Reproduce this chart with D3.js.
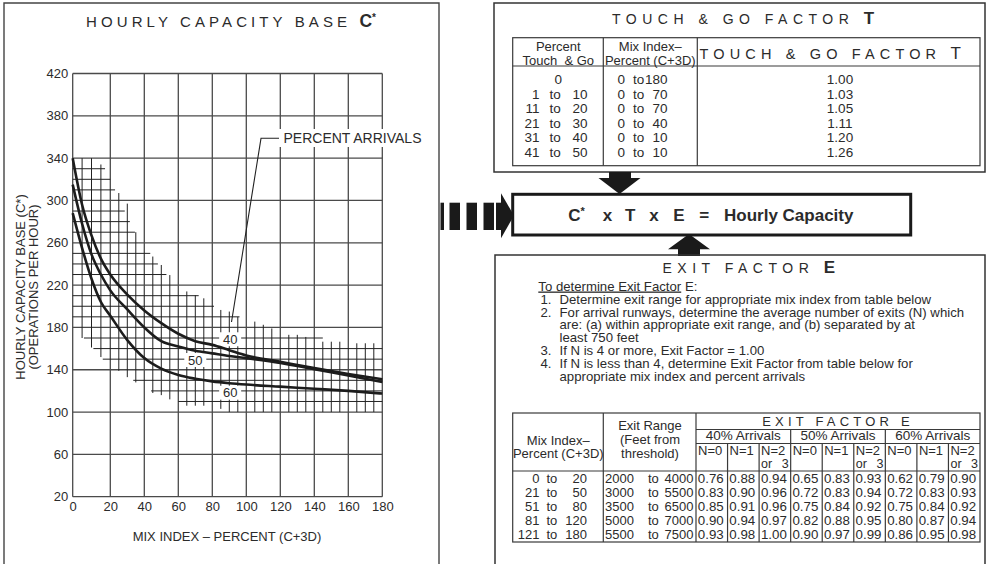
<!DOCTYPE html>
<html><head><meta charset="utf-8">
<script src="https://cdn.jsdelivr.net/npm/d3@7"></script>
<style>
html,body{margin:0;padding:0;background:#fff;}
svg{display:block;font-family:"Liberation Sans",Arial,sans-serif;}
</style></head><body>
<div id="chart"></div>
<script>
// ---------------- DATA ----------------
const xTicks = [0,20,40,60,80,100,120,140,160,180];
const yTicks = [20,60,100,140,180,220,260,300,340,380,420];
const mixIndex   = [0,5,10,15,20,30,40,50,60,70,80,90,100,120,140,160,180];
const arrivals40 = [340,296,267,245,230,211,196,184,174,167,163.5,158.5,153.5,147.5,141.5,136,131];
const arrivals50 = [315,278,249,230,215,197,180,167,162,158,155.5,153,151,146.5,140.5,134.5,128.5];
const arrivals60 = [288,255,226,204,191,168,151,141,135,131.5,129,127.3,126,124,122,120,117.5];
const curveLabels = ["40","50","60"];
// fine hatch: vertical lines [mix index, low C*, high C*]
const hatchV = [[5,170,340],[10,161,340],[15,152,334],[25,139,307],[30,133,297],[35,128,270],
  [45,118,247],[50,116,239],[55,112,229.5],[65,106,214],[70,106,210.5],[75,106,207.5],
  [85,103,196.5],[90,100,195],[95,100,190],[105,100,185.5],[110,100,182.5],[115,100,179],
  [125,100,173],[130,100,173],[135,100,171],[145,100,166.5],[150,100,166.5],[155,100,166.5],
  [165,100,165],[170,100,165],[175,100,165]];
// fine hatch: horizontal lines [C*, from mix index, to mix index]
const hatchH = [[110,60,180],[120,44,180],[130,33.5,180],[150,16,180],[160,11,180],[170,6,145],
  [190,0,96],[200,0,81],[210,0,72],[230,0,53],[240,0,48],[250,0,43.5],[270,0,34.5],
  [280,0,31.5],[290,0,28.5],[310,0,22.8],[320,0,20],[330,0,17.2]];

const tgPercent = [[0],[1,10],[11,20],[21,30],[31,40],[41,50]];
const tgMix     = [[0,180],[0,70],[0,70],[0,40],[0,10],[0,10]];
const tgFactor  = [1.00,1.03,1.05,1.11,1.20,1.26];

const exitSteps = [
  ["1.","Determine exit range for appropriate mix index from table below"],
  ["2.","For arrival runways, determine the average number of exits (N) which"],
  ["","are: (a) within appropriate exit range, and (b) separated by at"],
  ["","least 750 feet"],
  ["3.","If N is 4 or more, Exit Factor = 1.00"],
  ["4.","If N is less than 4, determine Exit Factor from table below for"],
  ["","appropriate mix index and percent arrivals"]];
const exitMix   = [[0,20],[21,50],[51,80],[81,120],[121,180]];
const exitRange = [[2000,4000],[3000,5500],[3500,6500],[5000,7000],[5500,7500]];
const arrivalGroups = ["40% Arrivals","50% Arrivals","60% Arrivals"];
const exitN = ["N=0","N=1","N=2"];
const exitFactor = [
  [0.76,0.88,0.94,0.65,0.83,0.93,0.62,0.79,0.90],
  [0.83,0.90,0.96,0.72,0.83,0.94,0.72,0.83,0.93],
  [0.85,0.91,0.96,0.75,0.84,0.92,0.75,0.84,0.92],
  [0.90,0.94,0.97,0.82,0.88,0.95,0.80,0.87,0.94],
  [0.93,0.98,1.00,0.90,0.97,0.99,0.86,0.95,0.98]];

// ---------------- DRAW ----------------
const W=986,H=564, TC="#2b2b2b", LC="#3a3a3a";
const svg=d3.select("#chart").append("svg").attr("width",W).attr("height",H);
svg.append("rect").attr("width",W).attr("height",H).attr("fill","#fff");

function txt(sel,xx,yy,s,o={}){
  const t=sel.append("text").attr("x",xx).attr("y",yy).attr("fill",TC)
    .style("font-size",(o.size||13)+"px").text(s);
  if(o.anchor) t.attr("text-anchor",o.anchor);
  if(o.weight) t.style("font-weight",o.weight);
  if(o.ls!=null) t.style("letter-spacing",o.ls+"px");
  return t;
}
function ln(sel,x1,y1,x2,y2,w,c){
  return sel.append("line").attr("x1",x1).attr("y1",y1).attr("x2",x2).attr("y2",y2)
    .attr("stroke",c||LC).attr("stroke-width",w||1);
}

// ===== LEFT PANEL =====
const x=d3.scaleLinear().domain([0,20,180]).range([72.7,110.3,382.3]);
const y=d3.scaleLinear().domain([20,420]).range([496.7,73.5]);

svg.append("path").attr("d","M4,570V3H439V570").attr("fill","none").attr("stroke","#444").attr("stroke-width",1.4);

const tt=svg.append("text").attr("x",86).attr("y",27).attr("fill",TC).style("font-size","15px");
tt.append("tspan").style("letter-spacing","4.1px").text("HOURLY CAPACITY BASE ");
tt.append("tspan").style("font-weight","bold").style("font-size","17.5px").text("C");
tt.append("tspan").style("font-weight","bold").style("font-size","10px").attr("dy",-6).text("*");

const grid=svg.append("g");
grid.selectAll("line.v").data(xTicks).join("line").attr("class","v")
  .attr("x1",d=>x(d)).attr("x2",d=>x(d)).attr("y1",y(20)).attr("y2",y(420))
  .attr("stroke","#4a4a4a").attr("stroke-width",1.3);
grid.selectAll("line.h").data(yTicks).join("line").attr("class","h")
  .attr("y1",d=>y(d)).attr("y2",d=>y(d)).attr("x1",x(0)).attr("x2",x(180))
  .attr("stroke","#4a4a4a").attr("stroke-width",1.3);

const hatch=svg.append("g").attr("stroke","#222").attr("stroke-width",1);
hatch.selectAll("line.hv").data(hatchV).join("line").attr("class","hv")
  .attr("x1",d=>x(d[0])).attr("x2",d=>x(d[0])).attr("y1",d=>y(d[1])).attr("y2",d=>y(d[2]));
hatch.selectAll("line.hh").data(hatchH).join("line").attr("class","hh")
  .attr("y1",d=>y(d[0])).attr("y2",d=>y(d[0])).attr("x1",d=>x(d[1])).attr("x2",d=>x(d[2]));

// axes
const ax=svg.append("g").attr("transform",`translate(0,${y(20)})`)
  .call(d3.axisBottom(x).tickValues(xTicks).tickSize(0).tickPadding(5.5));
ax.select(".domain").remove();
ax.attr("font-family",null).attr("font-size",null);
ax.selectAll("text").attr("fill",TC).style("font-size","13px");
const ay=svg.append("g").attr("transform",`translate(${x(0)},0)`)
  .call(d3.axisLeft(y).tickValues(yTicks).tickSize(0).tickPadding(4.4));
ay.select(".domain").remove();
ay.attr("font-family",null).attr("font-size",null);
ay.selectAll("text").attr("fill",TC).style("font-size","13px");

txt(svg,227,540.5,"MIX INDEX \u2013 PERCENT (C+3D)",{anchor:"middle"});
const yl=svg.append("g").attr("transform","translate(0,287) rotate(-90)");
txt(yl,0,25,"HOURLY CAPACITY BASE (C*)",{anchor:"middle"});
txt(yl,0,38,"(OPERATIONS PER HOUR)",{anchor:"middle"});

// curve labels with white backgrounds
const labelPos=[[90.5,168.8],[70,149.2],[90.5,118.3]];
curveLabels.forEach((s,i)=>{
  const cx=x(labelPos[i][0]), cy=y(labelPos[i][1]);
  svg.append("rect").attr("x",cx-11).attr("y",cy-7).attr("width",22).attr("height",14).attr("fill","#fff");
  txt(svg,cx,cy+4.6,s,{anchor:"middle"});
});

// curves
const line=d3.line().x(d=>x(d[0])).y(d=>y(d[1])).curve(d3.curveMonotoneX);
[arrivals40,arrivals50,arrivals60].forEach(arr=>{
  svg.append("path").datum(mixIndex.map((m,i)=>[m,arr[i]])).attr("d",line)
    .attr("fill","none").attr("stroke","#1c1c1c").attr("stroke-width",2.6);
});

// PERCENT ARRIVALS label + leader
svg.append("rect").attr("x",279).attr("y",129).attr("width",152).attr("height",18).attr("fill","#fff");
txt(svg,283.5,142.5,"PERCENT ARRIVALS",{size:14});
svg.append("path").attr("d","M231.5,322L261,138.3H279").attr("fill","none")
  .attr("stroke","#222").attr("stroke-width",1.1);

// ===== TOUCH & GO =====
svg.append("rect").attr("x",494).attr("y",3).attr("width",491).attr("height",169)
  .attr("fill","none").attr("stroke","#333").attr("stroke-width",1.5);
const t2=svg.append("text").attr("x",612).attr("y",23.5).attr("fill",TC).style("font-size","14px");
t2.append("tspan").style("letter-spacing","5.5px").text("TOUCH & GO FACTOR ");
t2.append("tspan").style("font-weight","bold").style("font-size","17px").text("T");

const tg=svg.append("g");
tg.append("rect").attr("x",512.7).attr("y",37.7).attr("width",467.3).attr("height",128)
  .attr("fill","none").attr("stroke",LC).attr("stroke-width",1.2);
ln(tg,603.3,37.7,603.3,165.7,1.2); ln(tg,697.3,37.7,697.3,165.7,1.2);
ln(tg,512.7,66,980,66,1.2);
txt(tg,558.3,51.3,"Percent",{anchor:"middle"});
txt(tg,558.3,65.3,"Touch  & Go",{anchor:"middle"}).style("white-space","pre");
txt(tg,650.3,51.3,"Mix Index\u2013",{anchor:"middle"});
txt(tg,650.3,65.3,"Percent (C+3D)",{anchor:"middle"});
const t3=tg.append("text").attr("x",699.5).attr("y",58.5).attr("fill",TC).style("font-size","14.5px");
t3.append("tspan").style("letter-spacing","5.15px").text("TOUCH & GO FACTOR ");
t3.append("tspan").style("font-size","17px").text("T");
const f2=d3.format(".2f");
tgPercent.forEach((p,i)=>{
  const by=84+i*14.6, fs=13.5;
  if(p.length===1) txt(tg,558.3,by,p[0],{anchor:"middle",size:fs});
  else { txt(tg,539.5,by,p[0],{anchor:"end",size:fs}); txt(tg,549.5,by,"to",{size:fs}); txt(tg,587.5,by,p[1],{anchor:"end",size:fs}); }
  const m=tgMix[i];
  txt(tg,625,by,m[0],{anchor:"end",size:fs}); txt(tg,633,by,"to",{size:fs}); txt(tg,667.5,by,m[1],{anchor:"end",size:fs});
  txt(tg,840,by,f2(tgFactor[i]),{anchor:"middle",size:fs});
});

// ===== FORMULA BOX & ARROWS =====
svg.append("rect").attr("x",512.7).attr("y",194.3).attr("width",398).attr("height",40.7)
  .attr("fill","#fff").attr("stroke","#1a1a1a").attr("stroke-width",3);
const fy=221;
const fg=svg.append("g").style("font-weight","bold");
[["C",568.3],["x",602.7],["T",625],["x",649.3],["E",673.3],["=",699.3],["Hourly Capacity",724]]
  .forEach(([s,xx])=>txt(fg,xx,fy,s,{size:17}));
txt(fg,580.5,fy-6,"*",{size:11});
// down arrow
svg.append("path").attr("d","M609,172H631V178H640.5L619.5,194L598.5,178H609Z").attr("fill","#1a1a1a");
// up arrow
svg.append("path").attr("d","M678,256H700V249.3H710L689,234L668,249.3H678Z").attr("fill","#1a1a1a");
// dashed arrow
[[440.5,444],[449.5,460],[466.5,477],[483.5,494],[496,502]].forEach(b=>
  svg.append("rect").attr("x",b[0]).attr("y",202.7).attr("width",b[1]-b[0]).attr("height",27.3).attr("fill","#1a1a1a"));
svg.append("path").attr("d","M501,193.3L514,215.5L501,238.3Z").attr("fill","#1a1a1a");

// ===== EXIT FACTOR =====
svg.append("path").attr("d","M495,570V255H985V570").attr("fill","none").attr("stroke","#333").attr("stroke-width",1.5);
const t4=svg.append("text").attr("x",662.5).attr("y",272.5).attr("fill",TC).style("font-size","14px");
t4.append("tspan").style("letter-spacing","5.5px").text("EXIT FACTOR ");
t4.append("tspan").style("font-weight","bold").style("font-size","17px").text("E");

const t5=svg.append("text").attr("x",538.3).attr("y",290.5).attr("fill",TC).style("font-size","13.2px");
t5.append("tspan").style("text-decoration","underline").text("To determine Exit Factor");
t5.append("tspan").text(" E:");
exitSteps.forEach((s,i)=>{
  const by=303.6+i*12.9;
  if(s[0]) txt(svg,540.5,by,s[0],{size:13.2});
  txt(svg,559.5,by,s[1],{size:13.2});
});

const et=svg.append("g");
const sub=d3.scaleLinear().domain([0,9]).range([696,980]);
const eTop=413, eL1=429.5, eL2=443.5, eHead=471, rowH=14, eBot=eHead+5*rowH+1;
et.append("rect").attr("x",512.7).attr("y",eTop).attr("width",467.3).attr("height",eBot-eTop)
  .attr("fill","none").attr("stroke",LC).attr("stroke-width",1.2);
ln(et,603.3,eTop,603.3,eBot,1.2); ln(et,696,eTop,696,eBot,1.2);
ln(et,696,eL1,980,eL1,1.2); ln(et,696,eL2,980,eL2,1.2);
ln(et,512.7,eHead,980,eHead,1.2);
d3.range(1,9).forEach(k=>ln(et,sub(k),k%3===0?eL1:eL2,sub(k),eBot,1.2));
txt(et,838,425.8,"EXIT FACTOR E",{anchor:"middle",ls:4.2});
arrivalGroups.forEach((g,j)=>txt(et,(sub(3*j)+sub(3*j+3))/2,440.3,g,{anchor:"middle",size:13.5}));
d3.range(9).forEach(k=>{
  txt(et,sub(k)+2,455,exitN[k%3]);
  if(k%3===2){ txt(et,sub(k)+2,468.3,"or",{size:12.5}); txt(et,sub(k+1)-2,468.3,"3",{anchor:"end",size:12.5}); }
});
txt(et,558.3,444.5,"Mix Index\u2013",{anchor:"middle"});
txt(et,558.3,457.8,"Percent (C+3D)",{anchor:"middle"});
txt(et,650,430,"Exit Range",{anchor:"middle"});
txt(et,650,444,"(Feet from",{anchor:"middle"});
txt(et,650,458,"threshold)",{anchor:"middle"});
exitMix.forEach((m,i)=>{
  const by=eHead+rowH/2+5.2+i*rowH;
  txt(et,539.5,by,m[0],{anchor:"end"}); txt(et,546.5,by,"to"); txt(et,587,by,m[1],{anchor:"end"});
  const r=exitRange[i];
  txt(et,605,by,r[0]); txt(et,648,by,"to"); txt(et,693.5,by,r[1],{anchor:"end"});
  exitFactor[i].forEach((v,k)=>txt(et,sub(k)+1.8,by,f2(v),{size:13.3}));
});
</script>
</body></html>
